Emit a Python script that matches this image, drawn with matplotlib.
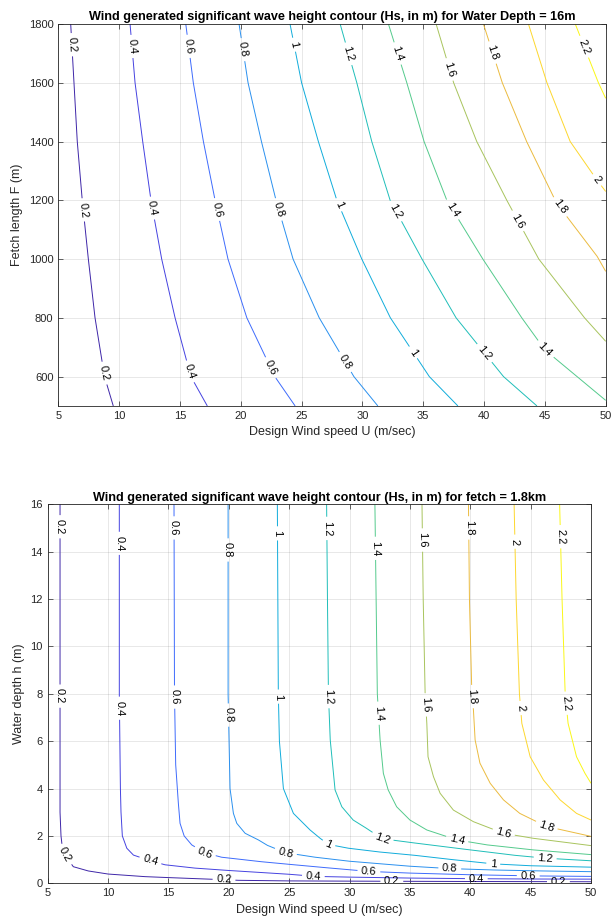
import numpy as np
import matplotlib
matplotlib.use("Agg")
import matplotlib.pyplot as plt
from matplotlib.contour import ContourSet
from matplotlib.colors import LinearSegmentedColormap

plt.rcParams['font.family'] = ['Liberation Sans', 'DejaVu Sans']

levels = [0.2, 0.4, 0.6, 0.8, 1.0, 1.2, 1.4, 1.6, 1.8, 2.0, 2.2]

# --- top plot: Hs contours over wind speed U (m/s) and fetch F (m), depth 16 m
fetch_u = [
    [6.02, 6.29, 6.56, 6.97, 7.47, 8.02, 8.8, 9.52],
    [10.9, 11.31, 11.94, 12.62, 13.5, 14.6, 15.9, 17.25],
    [15.48, 16.1, 16.93, 17.89, 18.95, 20.5, 22.8, 24.47],
    [19.86, 20.6, 21.7, 22.9, 24.3, 26.45, 29.3, 31.27],
    [24.05, 25.0, 26.38, 27.9, 29.95, 32.3, 35.5, 37.85],
    [28.17, 29.54, 30.77, 32.28, 34.9, 37.7, 41.6, 44.35],
    [32.14, 33.65, 35.07, 36.94, 39.9, 43.1, 45.0, 50.0],
    [36.06, 37.5, 39.4, 41.87, 44.5, 48.26, 50.0],
    [39.95, 41.5, 43.5, 45.85, 46.8, 49.3, 50.0],
    [43.65, 45.17, 47.08, 49.28, 50.0],
    [47.5, 49.4, 50.0],
]
fetch_f = [
    [1800, 1600, 1400, 1200, 1000, 800, 600, 500],
    [1800, 1600, 1400, 1200, 1000, 800, 600, 500],
    [1800, 1600, 1400, 1200, 1000, 800, 600, 500],
    [1800, 1600, 1400, 1200, 1000, 800, 600, 500],
    [1800, 1600, 1400, 1200, 1000, 800, 600, 500],
    [1800, 1600, 1400, 1200, 1000, 800, 600, 500],
    [1800, 1600, 1400, 1200, 1000, 800, 691, 519],
    [1800, 1600, 1400, 1200, 1000, 800, 720],
    [1800, 1600, 1400, 1200, 1145, 1009, 958],
    [1800, 1600, 1400, 1269, 1230],
    [1800, 1600, 1547],
]
fetch_lab_u = [5.96, 6.97, 8.84, 10.95, 12.68, 15.83, 15.56, 17.89, 22.4,
               20.08, 22.96, 28.44, 24.33, 27.76, 33.9, 28.58, 32.7, 39.7,
               32.55, 37.35, 45.0, 37.07, 42.45, 40.5, 46.3, 49.28, 47.9]
fetch_lab_f = [1729, 1167, 612, 1723, 1173, 617, 1723, 1167, 629,
               1712, 1167, 646, 1729, 1179, 674, 1695, 1162, 668,
               1695, 1167, 691, 1644, 1122, 1700, 1179, 1269, 1717]

# --- bottom plot: Hs contours over wind speed U (m/s) and depth h (m), fetch 1.8 km
depth_u = [
    [6.02, 6.02, 6.02, 6.02, 6.1, 6.2, 6.43, 7.12, 8.36, 10.0, 13.06, 15.0,
     18.6, 20.8, 25.0, 30.0, 40.0, 50.0],
    [10.93, 10.93, 11.02, 11.07, 11.18, 11.55, 12.1, 13.5, 14.72, 17.2, 20.0,
     22.5, 25.0, 27.2, 30.0, 35.0, 40.0, 45.0, 50.0],
    [15.46, 15.5, 15.6, 15.82, 15.96, 16.3, 16.93, 18.0, 19.4, 22.7, 25.0,
     28.0, 31.6, 35.0, 40.0, 45.4, 50.0],
    [19.94, 19.94, 20.1, 20.38, 20.66, 21.35, 22.45, 23.2, 24.7, 27.15, 30.0,
     35.0, 38.3, 42.0, 46.0, 50.0],
    [24.02, 24.1, 24.19, 24.52, 25.35, 26.73, 27.56, 28.25, 29.9, 32.5, 35.4,
     38.5, 41.9, 45.0, 50.0],
    [28.1, 28.17, 28.25, 28.4, 28.8, 29.36, 30.3, 31.4, 32.7, 35.4, 39.5,
     43.7, 46.2, 50.0],
    [32.1, 32.2, 32.3, 32.53, 32.8, 33.2, 33.9, 35.0, 36.4, 38.9, 41.4,
     45.2, 50.0],
    [36.0, 36.1, 36.26, 36.4, 36.5, 36.95, 37.5, 38.6, 40.26, 42.75, 45.2,
     50.0],
    [39.85, 39.93, 40.13, 40.26, 40.4, 40.8, 41.65, 42.75, 44.1, 46.3, 50.0],
    [43.63, 43.8, 44.07, 44.27, 44.96, 46.06, 47.44, 48.8, 50.0],
    [47.4, 47.6, 47.86, 48.1, 48.8, 49.5, 50.0],
]
depth_h = [
    [16, 8, 4, 3, 2.0, 1.55, 1.19, 0.70, 0.52, 0.39, 0.28, 0.24, 0.17, 0.125,
     0.10, 0.09, 0.075, 0.065],
    [16, 8, 4, 3, 2.0, 1.48, 1.19, 0.95, 0.78, 0.64, 0.54, 0.46, 0.38, 0.29,
     0.26, 0.22, 0.195, 0.18, 0.175],
    [16, 8, 5, 3.38, 2.53, 2.0, 1.62, 1.29, 1.10, 0.91, 0.80, 0.66, 0.50,
     0.43, 0.36, 0.31, 0.29],
    [16, 8, 4, 2.95, 2.53, 2.11, 1.83, 1.6, 1.29, 1.10, 0.93, 0.72, 0.62,
     0.56, 0.52, 0.49],
    [16, 8, 6, 4, 2.95, 2.25, 1.9, 1.64, 1.48, 1.32, 1.18, 1.0, 0.82, 0.74,
     0.68],
    [16, 12, 8, 6.05, 3.94, 3.23, 2.67, 2.32, 1.88, 1.70, 1.44, 1.18, 1.06,
     0.95],
    [16, 12, 8, 6.05, 4.64, 3.94, 3.23, 2.67, 2.25, 1.83, 1.62, 1.41, 1.21],
    [16, 12, 8, 6.75, 5.34, 4.5, 3.8, 3.09, 2.6, 2.11, 1.9, 1.59],
    [16, 12, 8, 7.32, 6.05, 5.07, 4.22, 3.52, 2.95, 2.40, 1.98],
    [16, 12, 8, 6.75, 5.34, 4.36, 3.52, 2.95, 2.67],
    [16, 12, 8, 6.75, 5.34, 4.64, 4.22],
]
depth_lab_u = [6.02, 6.02, 6.45, 19.6, 33.5, 47.3,
               10.93, 10.93, 13.5, 27.0, 40.5,
               15.46, 15.5, 18.0, 31.6, 44.8,
               19.94, 19.94, 24.7, 38.3,
               24.05, 24.1, 28.25, 41.9,
               28.1, 28.25, 32.7, 46.2,
               32.2, 32.4, 38.9,
               36.1, 36.3, 42.75,
               39.9, 40.15, 46.3,
               43.7, 44.0,
               47.5, 47.9]
depth_lab_h = [15.05, 7.9, 1.2, 0.14, 0.085, 0.068,
               14.35, 7.39, 0.95, 0.29, 0.195,
               15.0, 7.86, 1.29, 0.50, 0.31,
               14.07, 7.1, 1.29, 0.62,
               14.77, 7.88, 1.64, 0.82,
               14.98, 7.88, 1.88, 1.06,
               14.14, 7.18, 1.83,
               14.49, 7.53, 2.11,
               15.0, 7.88, 2.40,
               14.42, 7.39,
               14.63, 7.6]

parula = LinearSegmentedColormap.from_list('parula', [
    (0.00, (0.2422, 0.1504, 0.6603)),
    (0.10, (0.2760, 0.2836, 0.9259)),
    (0.20, (0.2350, 0.4470, 0.9980)),
    (0.30, (0.1520, 0.5900, 0.9220)),
    (0.40, (0.0460, 0.6880, 0.8460)),
    (0.50, (0.1340, 0.7560, 0.7060)),
    (0.60, (0.3650, 0.7990, 0.5200)),
    (0.70, (0.7070, 0.7620, 0.3420)),
    (0.80, (0.9630, 0.7300, 0.2300)),
    (0.90, (0.9950, 0.8610, 0.1720)),
    (1.00, (0.9769, 0.9839, 0.0805)),
])
line_colors = [parula(np.clip((lv - 0.23) / 2.0, 0, 1)) for lv in levels]

dark = '#262626'
fig = plt.figure(figsize=(6.11, 9.22), dpi=100)
ax1 = fig.add_axes([0.0954, 0.5597, 0.8959, 0.4143])
ax2 = fig.add_axes([0.0781, 0.0420, 0.8892, 0.4111])


def draw(ax, us, vs, lab_u, lab_v):
    segs = [[np.column_stack([u, v])] for u, v in zip(us, vs)]
    cs = ContourSet(ax, levels, segs, colors=line_colors, linewidths=0.7)
    ax.clabel(cs, fmt='%g', manual=list(zip(lab_u, lab_v)), inline=True,
              inline_spacing=4, fontsize=8, colors='k')
    return cs


def style(ax):
    ax.set_axisbelow(True)
    ax.grid(True, color=dark, alpha=0.15, linewidth=0.5)
    ax.tick_params(direction='in', top=True, right=True, length=3.5,
                   width=0.5, color=dark, labelcolor=dark, labelsize=8)
    for sp in ax.spines.values():
        sp.set_color(dark)
        sp.set_linewidth(0.6)


draw(ax1, fetch_u, fetch_f, fetch_lab_u, fetch_lab_f)
ax1.set_xlim(5, 50)
ax1.set_ylim(500, 1800)
ax1.set_xticks(np.arange(5, 51, 5))
ax1.set_yticks(np.arange(600, 1801, 200))
style(ax1)
ax1.set_xlabel('Design Wind speed U (m/sec)', fontsize=9, color=dark)
ax1.set_ylabel('Fetch length F (m)', fontsize=9, color=dark)
ax1.set_title('Wind generated significant wave height contour (Hs, in m) '
              'for Water Depth = 16m', fontsize=9.1, fontweight='bold', pad=2.5)

draw(ax2, depth_u, depth_h, depth_lab_u, depth_lab_h)
ax2.set_xlim(5, 50)
ax2.set_ylim(0, 16)
ax2.set_xticks(np.arange(5, 51, 5))
ax2.set_yticks(np.arange(0, 17, 2))
style(ax2)
ax2.set_xlabel('Design Wind speed U (m/sec)', fontsize=9, color=dark)
ax2.set_ylabel('Water depth h (m)', fontsize=9, color=dark)
ax2.set_title('Wind generated significant wave height contour (Hs, in m) '
              'for fetch = 1.8km', fontsize=9.1, fontweight='bold', pad=2.5)

fig.savefig('out.png', dpi=100)
